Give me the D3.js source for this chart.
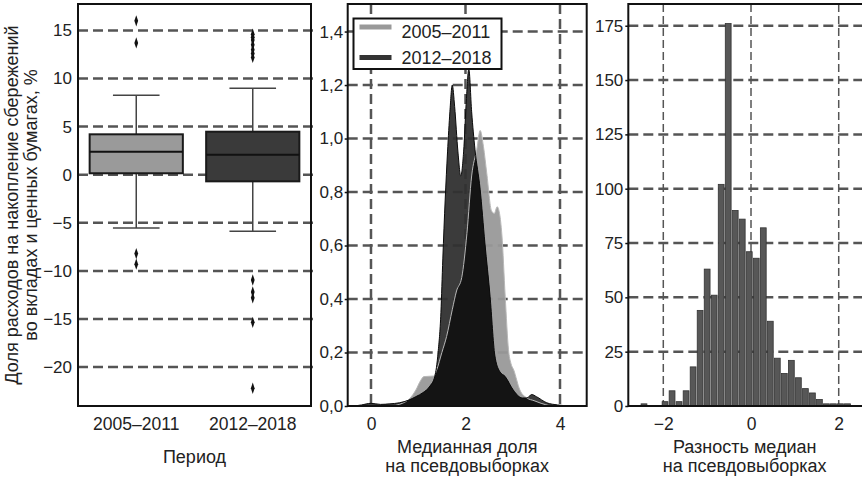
<!DOCTYPE html>
<html>
<head>
<meta charset="utf-8">
<script src="https://cdn.jsdelivr.net/npm/d3@7"></script>
<style>
body { margin: 0; background: #fff; }
svg { display: block; font-family: "Liberation Sans", Arial, sans-serif; }
</style>
</head>
<body>
<svg width="862" height="479"></svg>
<script>
"use strict";
// --- data ---
const periods = ["2005–2011", "2012–2018"];
const boxQ1 = [0.15, -0.69];
const boxMedian = [2.39, 2.08];
const boxQ3 = [4.2, 4.47];
const whiskerLow = [-5.54, -5.88];
const whiskerHigh = [8.25, 8.98];
const outliers = [
    [16.0, 13.7, -8.2, -9.3],
    [14.6, 14.3, 14.0, 13.5, 13.0, 12.6, 12.2, -10.95, -12.2, -12.8, -15.35, -22.2]
];
const boxTicks = [-20, -15, -10, -5, 0, 5, 10, 15];

// bootstrap medians, kernel density [x, density]
const kde0511 = [[0.45, 0], [0.6, 0.006], [0.83, 0.03], [0.95, 0.06], [1.05, 0.095], [1.12, 0.11],
    [1.33, 0.112], [1.39, 0.135], [1.5, 0.2], [1.6, 0.26], [1.72, 0.36], [1.81, 0.43], [1.92, 0.48],
    [2.03, 0.645], [2.13, 0.86], [2.24, 0.96], [2.31, 1.03], [2.38, 0.97], [2.45, 0.87], [2.55, 0.73],
    [2.61, 0.72], [2.67, 0.745], [2.72, 0.72], [2.77, 0.64], [2.84, 0.41], [2.91, 0.21], [2.96, 0.16],
    [3.02, 0.135], [3.15, 0.06], [3.3, 0.03], [3.45, 0.02], [3.6, 0.01], [3.8, 0]];
const kde1218 = [[-0.35, 0], [-0.2, 0.004], [0, 0.01], [0.2, 0.006], [0.4, 0.008], [0.6, 0.012],
    [0.8, 0.022], [0.95, 0.035], [1.1, 0.05], [1.25, 0.075], [1.35, 0.11], [1.42, 0.2], [1.48, 0.35],
    [1.52, 0.55], [1.57, 0.77], [1.62, 0.95], [1.67, 1.1], [1.72, 1.2], [1.77, 1.12], [1.84, 0.95],
    [1.9, 0.86], [1.96, 0.95], [2.02, 1.15], [2.07, 1.26], [2.13, 1.1], [2.2, 0.96], [2.31, 0.81],
    [2.41, 0.61], [2.52, 0.41], [2.62, 0.19], [2.72, 0.13], [2.84, 0.11], [3.01, 0.06], [3.2, 0.03],
    [3.3, 0.03], [3.4, 0.043], [3.5, 0.035], [3.72, 0.012], [3.95, 0.004], [4.2, 0]];
const kdeXTicks = [0, 2, 4];
const kdeYTicks = [0, 0.2, 0.4, 0.6, 0.8, 1.0, 1.2, 1.4];

// differences of bootstrap medians, histogram
const diffBins = [-2.44, -2.28, -2.12, -1.96, -1.80, -1.64, -1.48, -1.32, -1.16, -1.00, -0.84, -0.68,
    -0.52, -0.36, -0.20, -0.04, 0.12, 0.28, 0.44, 0.60, 0.76, 0.92, 1.08, 1.24, 1.40, 1.56, 1.72, 1.88,
    2.04, 2.20];
const diffCounts = [1, 0, 0, 2, 7, 2, 7, 18, 44, 63, 51, 102, 176, 90, 86, 71, 68, 82, 39, 22, 15, 21,
    13, 8, 6, 3, 1, 1, 1, 1];
const binWidth = 0.16;
const histXTicks = [-2, 0, 2];
const histYTicks = [0, 25, 50, 75, 100, 125, 150, 175];

const svg = d3.select("svg");
const yTop = 4, yBottom = 406;
const commaFmt = d => d3.format(".1f")(d).replace(".", ",");

function grid(g, lines, horizontal, x0, x1, width, dash) {
    g.selectAll(null)
        .data(lines)
        .enter()
        .append("line")
        .attr("x1", d => horizontal ? x0 : d)
        .attr("x2", d => horizontal ? x1 : d)
        .attr("y1", d => horizontal ? d : yTop)
        .attr("y2", d => horizontal ? d : yBottom)
        .attr("stroke", "#555")
        .attr("stroke-width", width)
        .attr("stroke-dasharray", dash);
}

function frame(x0, x1) {
    svg.append("rect")
        .attr("x", x0)
        .attr("y", yTop)
        .attr("width", x1 - x0)
        .attr("height", yBottom - yTop)
        .attr("fill", "none")
        .attr("stroke", "#111")
        .attr("stroke-width", 2);
}

function leftAxis(scale, x0, ticks, fmt, tick, pad) {
    const g = svg.append("g")
        .attr("transform", `translate(${x0},0)`)
        .call(d3.axisLeft(scale).tickValues(ticks).tickFormat(fmt).tickSize(tick).tickPadding(pad));
    g.select(".domain").remove();
    g.selectAll("line").attr("stroke", "#111").attr("stroke-width", 1.5);
    g.selectAll("text").attr("fill", "#222").style("font-size", "17px")
        .style("font-family", "'Liberation Sans', Arial, sans-serif");
}

function bottomAxis(scale, ticks, fmt) {
    const g = svg.append("g")
        .attr("transform", `translate(0,${yBottom})`)
        .call(d3.axisBottom(scale).tickValues(ticks).tickFormat(fmt).tickSize(0).tickPadding(12));
    g.select(".domain").remove();
    g.selectAll("text").attr("fill", "#222").style("font-size", "17.5px")
        .style("font-family", "'Liberation Sans', Arial, sans-serif");
}

function xLabel(cx, lines, y0) {
    const t = svg.append("text")
        .attr("text-anchor", "middle")
        .attr("fill", "#222")
        .style("font-size", "18px");
    lines.forEach((s, i) => {
        t.append("tspan").attr("x", cx).attr("y", y0 + i * 19).text(s);
    });
}

// ---------- panel 1: box plot ----------
const p1 = { x0: 78, x1: 311 };
const yBox = d3.scaleLinear().domain([-24.05, 17.75]).range([yBottom, yTop]);
const xBox = d3.scaleBand().domain(periods).range([p1.x0, p1.x1]).paddingInner(0.2).paddingOuter(0.1);

grid(svg.append("g"), boxTicks.map(yBox), true, p1.x0, p1.x1 + 3, 2.5, "10,5");

const boxColors = ["#9a9a9a", "#3a3a3a"];
periods.forEach((p, i) => {
    const g = svg.append("g");
    const cx = xBox(p) + xBox.bandwidth() / 2;
    const bw = xBox.bandwidth();
    // whiskers
    g.append("line").attr("x1", cx).attr("x2", cx)
        .attr("y1", yBox(boxQ3[i])).attr("y2", yBox(whiskerHigh[i]))
        .attr("stroke", "#444").attr("stroke-width", 1.5);
    g.append("line").attr("x1", cx).attr("x2", cx)
        .attr("y1", yBox(boxQ1[i])).attr("y2", yBox(whiskerLow[i]))
        .attr("stroke", "#444").attr("stroke-width", 1.5);
    [whiskerHigh[i], whiskerLow[i]].forEach(v => {
        g.append("line").attr("x1", cx - bw / 4).attr("x2", cx + bw / 4)
            .attr("y1", yBox(v)).attr("y2", yBox(v))
            .attr("stroke", "#444").attr("stroke-width", 1.5);
    });
    g.append("rect")
        .attr("x", xBox(p))
        .attr("y", yBox(boxQ3[i]))
        .attr("width", bw)
        .attr("height", yBox(boxQ1[i]) - yBox(boxQ3[i]))
        .attr("fill", boxColors[i])
        .attr("stroke", "#1a1a1a")
        .attr("stroke-width", 2);
    g.append("line").attr("x1", xBox(p)).attr("x2", xBox(p) + bw)
        .attr("y1", yBox(boxMedian[i])).attr("y2", yBox(boxMedian[i]))
        .attr("stroke", "#111").attr("stroke-width", 2);
    g.selectAll("path")
        .data(outliers[i])
        .enter()
        .append("path")
        .attr("d", d3.symbol(d3.symbolDiamond, 22))
        .attr("transform", d => `translate(${cx},${yBox(d)}) scale(0.75,1.3)`)
        .attr("fill", "#111");
});
frame(p1.x0, p1.x1);
leftAxis(yBox, p1.x0, boxTicks, d3.format("d"), 0, 6);
bottomAxis(xBox, periods, d => d);
xLabel((p1.x0 + p1.x1) / 2, ["Период"], 463);

svg.append("text")
    .attr("transform", "translate(0,205) rotate(-90)")
    .attr("text-anchor", "middle")
    .attr("fill", "#222")
    .style("font-size", "18px")
    .call(t => {
        t.append("tspan").attr("x", 0).attr("y", 18).text("Доля расходов на накопление сбережений");
        t.append("tspan").attr("x", 0).attr("y", 36.5).text("во вкладах и ценных бумагах, %");
    });

// ---------- panel 2: densities ----------
const p2 = { x0: 347.7, x1: 586.7 };
const xKde = d3.scaleLinear().domain([-0.493, 4.565]).range([p2.x0, p2.x1]);
const yKde = d3.scaleLinear().domain([0, 1.503]).range([yBottom, yTop]);

const g2 = svg.append("g");
grid(g2, kdeYTicks.slice(1).map(yKde), true, p2.x0, p2.x1, 2.5, "10,5");
grid(g2, kdeXTicks.map(xKde), false, 0, 0, 2.5, "10,5");

const area = d3.area()
    .x(d => xKde(d[0]))
    .y0(yKde(0))
    .y1(d => yKde(d[1]))
    .curve(d3.curveMonotoneX);
const line = d3.line()
    .x(d => xKde(d[0]))
    .y(d => yKde(d[1]))
    .curve(d3.curveMonotoneX);

svg.append("clipPath").attr("id", "clipOld")
    .append("path").attr("d", area(kde0511));

g2.append("path").attr("d", area(kde0511)).attr("fill", "#999").attr("fill-opacity", 0.95);
g2.append("path").attr("d", area(kde1218)).attr("fill", "#303030").attr("fill-opacity", 0.95);
g2.append("path").attr("d", area(kde1218)).attr("fill", "#141414").attr("clip-path", "url(#clipOld)");
g2.append("path").attr("d", line(kde0511)).attr("fill", "none").attr("stroke", "#b8b8b8").attr("stroke-width", 1);
g2.append("path").attr("d", line(kde1218)).attr("fill", "none").attr("stroke", "#0a0a0a").attr("stroke-width", 1);

frame(p2.x0, p2.x1);
leftAxis(yKde, p2.x0, kdeYTicks, commaFmt, 3, 1.5);
bottomAxis(xKde, kdeXTicks, d3.format("d"));
xLabel((p2.x0 + p2.x1) / 2, ["Медианная доля", "на псевдовыборках"], 453);

// legend
const legend = svg.append("g").attr("transform", "translate(353.5,18.5)");
legend.append("rect")
    .attr("width", 148)
    .attr("height", 50.5)
    .attr("fill", "#fff")
    .attr("stroke", "#111")
    .attr("stroke-width", 2);
const legendColors = ["#999", "#333"];
periods.forEach((p, i) => {
    legend.append("line")
        .attr("x1", 6).attr("x2", 38)
        .attr("y1", 8.5 + i * 30.5).attr("y2", 8.5 + i * 30.5)
        .attr("stroke", legendColors[i])
        .attr("stroke-width", 5);
    legend.append("text")
        .attr("x", 48)
        .attr("y", 19 + i * 26)
        .attr("fill", "#222")
        .style("font-size", "18px")
        .text(p);
});

// ---------- panel 3: histogram ----------
const p3 = { x0: 628.3, x1: 867 };
const xHist = d3.scaleLinear().domain([-2.798, 2.645]).range([p3.x0, p3.x1]);
const yHist = d3.scaleLinear().domain([0, 185]).range([yBottom, yTop]);

const g3 = svg.append("g");
grid(g3, histYTicks.slice(1).map(yHist), true, p3.x0, p3.x1, 2.5, "10,5");
grid(g3, histXTicks.map(xHist), false, 0, 0, 1.5, "8,4");

g3.selectAll("rect")
    .data(diffBins)
    .enter()
    .append("rect")
    .attr("x", d => xHist(d - binWidth / 2) + 0.6)
    .attr("width", xHist(binWidth) - xHist(0) - 1.2)
    .attr("y", (d, i) => yHist(diffCounts[i]))
    .attr("height", (d, i) => yHist(0) - yHist(diffCounts[i]))
    .attr("fill", "#575757")
    .attr("stroke", "#333")
    .attr("stroke-width", 0.8);

frame(p3.x0, p3.x1);
leftAxis(yHist, p3.x0, histYTicks, d3.format("d"), 3, 2);
bottomAxis(xHist, histXTicks, d3.format("d"));
xLabel((p3.x0 + 861) / 2, ["Разность медиан", "на псевдовыборках"], 453);
</script>
</body>
</html>
